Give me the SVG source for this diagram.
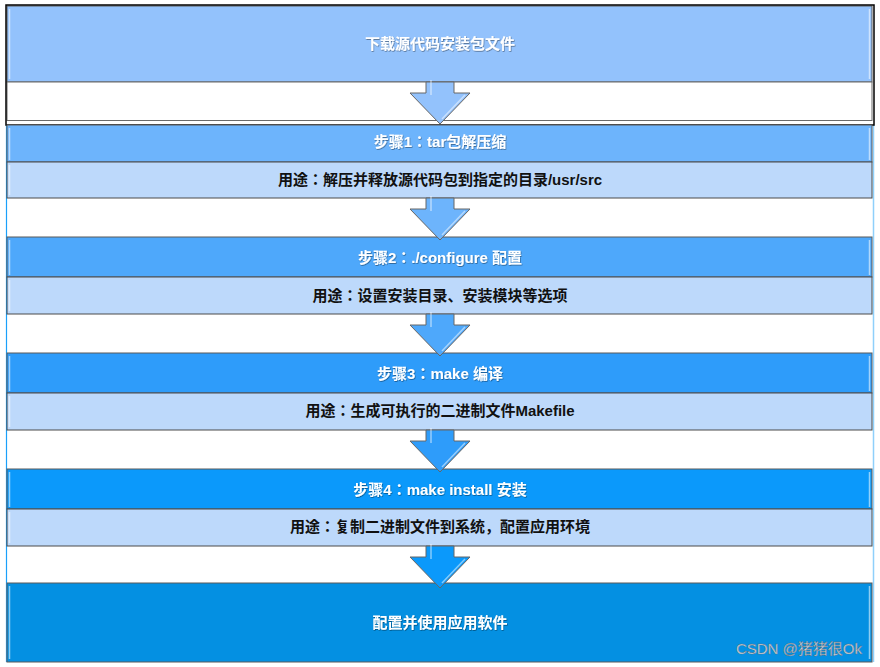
<svg xmlns="http://www.w3.org/2000/svg" width="880" height="667" viewBox="0 0 880 667">
<style>
  .box{stroke:#5a5a5a;stroke-width:1}
  .sub{fill:#bdd9fb;stroke:#4a4a4a;stroke-width:1}
  .hl{stroke:#ffffff;stroke-opacity:0.55;stroke-width:1.5;fill:none}
  .ht{font-family:"Liberation Sans","Noto Sans CJK JP",sans-serif;font-weight:bold;font-size:15px;fill:#ffffff;text-anchor:middle}
  .st{font-family:"Liberation Sans","Noto Sans CJK JP",sans-serif;font-weight:bold;font-size:15px;fill:#111111;text-anchor:middle}
  .arr{stroke:#666666;stroke-width:1}
  .ahl{stroke:#ffffff;stroke-opacity:0.5;stroke-width:1.5;fill:none}
  .wm{font-family:"Liberation Sans","Noto Sans CJK SC",sans-serif;font-size:15px;fill:#d6dde4;stroke:#5d6b78;stroke-width:0.4}
</style>
<defs>
  <filter id="sh" x="-10%" y="-30%" width="120%" height="160%">
    <feDropShadow dx="0.6" dy="0.8" stdDeviation="0.5" flood-color="#000000" flood-opacity="0.45"/>
  </filter>
</defs>
<rect x="0" y="0" width="880" height="667" fill="#ffffff"/>
<!-- side borders -->
<line x1="6.5" y1="125" x2="6.5" y2="662" stroke="#1aa0fa" stroke-width="1.2"/>
<line x1="873.5" y1="125" x2="873.5" y2="662" stroke="#8fd0fb" stroke-width="1.5"/>

<g id="node-download">
  <rect class="box" x="7" y="6" width="865" height="76" fill="#93c2fc"/>
  <line class="hl" x1="9.5" y1="9" x2="9.5" y2="79"/>
  <line class="hl" x1="869.5" y1="9" x2="869.5" y2="79"/>
  <rect x="7" y="82" width="865" height="38.5" fill="#ffffff" stroke="#6a6a6a" stroke-width="1"/>
  <text class="ht" x="440" y="49" filter="url(#sh)">下载源代码安装包文件</text>
</g>
<rect x="6" y="5" width="868" height="120" fill="none" stroke="#000000" stroke-width="1.5"/>

<g id="node-step1">
  <rect class="box" x="7" y="125" width="865" height="37" fill="#6db4fc"/>
  <line class="hl" x1="9.5" y1="128" x2="9.5" y2="160"/>
  <line class="hl" x1="869.5" y1="128" x2="869.5" y2="160"/>
  <text class="ht" x="440" y="147" filter="url(#sh)">步骤1：tar包解压缩</text>
  <rect class="sub" x="7" y="162" width="865" height="36"/>
  <line class="hl" x1="9.5" y1="165" x2="9.5" y2="195"/>
  <text class="st" x="440" y="185">用途：解压并释放源代码包到指定的目录/usr/src</text>
</g>

<g id="node-step2">
  <rect class="box" x="7" y="237" width="865" height="40" fill="#4ea8fb"/>
  <line class="hl" x1="9.5" y1="240" x2="9.5" y2="275"/>
  <line class="hl" x1="869.5" y1="240" x2="869.5" y2="275"/>
  <text class="ht" x="440" y="263" filter="url(#sh)">步骤2：./configure 配置</text>
  <rect class="sub" x="7" y="277" width="865" height="37"/>
  <line class="hl" x1="9.5" y1="280" x2="9.5" y2="311"/>
  <text class="st" x="440" y="301">用途：设置安装目录、安装模块等选项</text>
</g>

<g id="node-step3">
  <rect class="box" x="7" y="353" width="865" height="40" fill="#2e9cfa"/>
  <line class="hl" x1="9.5" y1="356" x2="9.5" y2="391"/>
  <line class="hl" x1="869.5" y1="356" x2="869.5" y2="391"/>
  <text class="ht" x="440" y="379" filter="url(#sh)">步骤3：make 编译</text>
  <rect class="sub" x="7" y="393" width="865" height="37"/>
  <line class="hl" x1="9.5" y1="396" x2="9.5" y2="427"/>
  <text class="st" x="440" y="416">用途：生成可执行的二进制文件Makefile</text>
</g>

<g id="node-step4">
  <rect class="box" x="7" y="469" width="865" height="40" fill="#0b99fb"/>
  <line class="hl" x1="9.5" y1="472" x2="9.5" y2="507"/>
  <line class="hl" x1="869.5" y1="472" x2="869.5" y2="507"/>
  <text class="ht" x="440" y="495" filter="url(#sh)">步骤4：make install 安装</text>
  <rect class="sub" x="7" y="509" width="865" height="37" fill="#b7d7fb"/>
  <line class="hl" x1="9.5" y1="512" x2="9.5" y2="543"/>
  <text class="st" x="440" y="532">用途：复制二进制文件到系统，配置应用环境</text>
</g>

<g id="node-final">
  <rect class="box" x="7" y="583" width="865" height="79" fill="#0490e2"/>
  <line class="hl" x1="9.5" y1="586" x2="9.5" y2="659"/>
  <line class="hl" x1="869.5" y1="586" x2="869.5" y2="659"/>
  <text class="ht" x="440" y="628" filter="url(#sh)">配置并使用应用软件</text>
</g>

<g id="connectors">
  <g>
    <polygon class="arr" fill="#93c2fc" points="426,82 454,82 454,93 470,93 440,124 410,93 426,93"/>
    <line class="ahl" x1="431" y1="80" x2="431" y2="95"/>
    <line class="ahl" x1="465" y1="95" x2="442" y2="119"/>
  </g>
  <g>
    <polygon class="arr" fill="#6db4fc" points="426,198 454,198 454,209 470,209 440,240 410,209 426,209"/>
    <line class="ahl" x1="431" y1="196" x2="431" y2="211"/>
    <line class="ahl" x1="465" y1="211" x2="442" y2="235"/>
  </g>
  <g>
    <polygon class="arr" fill="#4ea8fb" points="426,314 454,314 454,325 470,325 440,356 410,325 426,325"/>
    <line class="ahl" x1="431" y1="312" x2="431" y2="327"/>
    <line class="ahl" x1="465" y1="327" x2="442" y2="351"/>
  </g>
  <g>
    <polygon class="arr" fill="#2e9cfa" points="426,430 454,430 454,441 470,441 440,472 410,441 426,441"/>
    <line class="ahl" x1="431" y1="428" x2="431" y2="443"/>
    <line class="ahl" x1="465" y1="443" x2="442" y2="467"/>
  </g>
  <g>
    <polygon class="arr" fill="#0b99fb" points="426,546 454,546 454,557 470,557 440,588 410,557 426,557"/>
    <line class="ahl" x1="431" y1="544" x2="431" y2="559"/>
    <line class="ahl" x1="465" y1="559" x2="442" y2="583"/>
  </g>
</g>

<text class="wm" x="862" y="654" text-anchor="end">CSDN @猪猪很Ok</text>
</svg>
